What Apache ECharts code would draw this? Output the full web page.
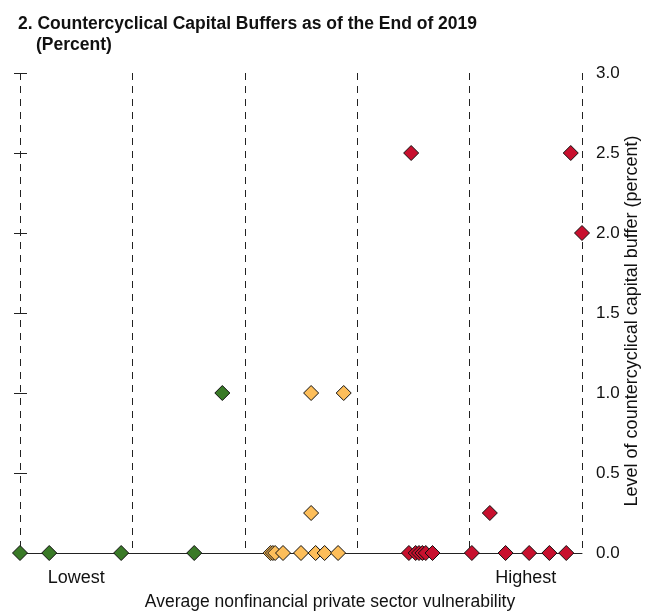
<!DOCTYPE html>
<html>
<head>
<meta charset="utf-8">
<script src="https://cdn.jsdelivr.net/npm/echarts@6/dist/echarts.min.js"></script>
<style>
  html, body { margin: 0; padding: 0; background: #fff; }
  #chart { width: 648px; height: 614px; }
</style>
</head>
<body>
<div id="chart"></div>
<script>
// Vulnerability score (0 = lowest, 5 = highest, one unit per quintile) and CCyB level, by group
const lowGroupX   = [0.00, 0.26, 0.90, 1.55, 1.80];
const lowGroupY   = [0.0, 0.0, 0.0, 0.0, 1.0];

const midGroupX   = [2.23, 2.25, 2.27, 2.34, 2.50, 2.63, 2.71, 2.83, 2.59, 2.88, 2.59];
const midGroupY   = [0.0, 0.0, 0.0, 0.0, 0.0, 0.0, 0.0, 0.0, 1.0, 1.0, 0.25];

const highGroupX  = [3.46, 3.52, 3.55, 3.58, 3.61, 3.67, 4.02, 4.32, 4.53, 4.71, 4.86, 4.18, 3.48, 4.90, 5.00];
const highGroupY  = [0.0, 0.0, 0.0, 0.0, 0.0, 0.0, 0.0, 0.0, 0.0, 0.0, 0.0, 0.25, 2.5, 2.5, 2.0];

const endLabels = { 0.5: 'Lowest', 4.5: 'Highest' };

const FONT = '"Liberation Sans Narrow", "Liberation Sans", Arial, sans-serif';
const INK = '#222';
const dash = [7, 6];

function pairs(xs, ys) {
  return xs.map((x, i) => [x, ys[i]]);
}

function group(name, color, xs, ys) {
  return {
    name: name,
    type: 'scatter',
    xAxisIndex: 0,
    yAxisIndex: 1,
    symbol: 'diamond',
    symbolSize: 15,
    itemStyle: { color: color, borderColor: '#111', borderWidth: 1, opacity: 1 },
    data: pairs(xs, ys),
    z: 5
  };
}

const chart = echarts.init(document.getElementById('chart'), null, { renderer: 'canvas' });

chart.setOption({
  animation: false,
  backgroundColor: '#fff',
  textStyle: { fontFamily: FONT },
  title: [
    {
      text: '2. Countercyclical Capital Buffers as of the End of 2019',
      left: 13, top: 10,
      textStyle: { fontFamily: FONT, fontWeight: 'bold', fontSize: 17.5, color: '#111' }
    },
    {
      text: '(Percent)',
      left: 31, top: 31,
      textStyle: { fontFamily: FONT, fontWeight: 'bold', fontSize: 17.5, color: '#111' }
    }
  ],
  grid: {
    left: 20, right: 66, top: 73, bottom: 61,
    containLabel: false, outerBoundsMode: 'none'
  },
  xAxis: [
    {
      type: 'value', min: 0, max: 5, interval: 1,
      axisLine: { show: true, onZero: false, lineStyle: { color: INK, width: 1 } },
      axisTick: { show: false },
      axisLabel: { show: false },
      splitLine: { show: true, lineStyle: { color: INK, width: 1, type: dash } }
    },
    {
      type: 'value', min: 0, max: 5, interval: 0.5, position: 'bottom',
      axisLine: { show: false },
      axisTick: { show: false },
      splitLine: { show: false },
      axisLabel: {
        show: true, margin: 16, fontSize: 18, color: '#111', fontFamily: FONT,
        formatter: v => endLabels[v] || ''
      },
      name: 'Average nonfinancial private sector vulnerability',
      nameLocation: 'middle', nameGap: 40, nameMoveOverlap: false,
      nameTextStyle: { fontSize: 17.5, color: '#111', fontFamily: FONT, padding: [0, 0, 0, 58] }
    }
  ],
  yAxis: [
    {
      type: 'value', min: 0, max: 3, interval: 0.5, position: 'left',
      axisLine: { show: false },
      axisTick: { show: true, length: 6, lineStyle: { color: INK } },
      axisLabel: { show: false },
      splitLine: { show: false }
    },
    {
      type: 'value', min: 0, max: 3, interval: 0.5, position: 'right',
      axisLine: { show: false },
      axisTick: { show: true, length: 7, lineStyle: { color: INK } },
      axisLabel: {
        show: true, margin: 14, fontSize: 17, color: '#111', fontFamily: FONT,
        formatter: v => v.toFixed(1)
      },
      splitLine: { show: false },
      name: 'Level of countercyclical capital buffer (percent)',
      nameLocation: 'middle', nameRotate: 90, nameGap: 41, nameMoveOverlap: false,
      nameTextStyle: { fontSize: 18, color: '#111', fontFamily: FONT, padding: [0, 16, 0, 0] }
    }
  ],
  series: [
    group('Lowest vulnerability', '#3a7a27', lowGroupX, lowGroupY),
    group('Middle vulnerability', '#fdbe5a', midGroupX, midGroupY),
    group('Highest vulnerability', '#c8102e', highGroupX, highGroupY)
  ]
});
</script>
</body>
</html>
